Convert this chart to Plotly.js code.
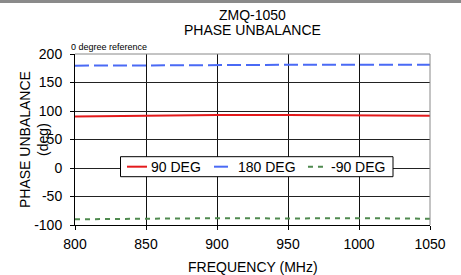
<!DOCTYPE html>
<html><head><meta charset="utf-8">
<script src="https://cdn.plot.ly/plotly-3.0.1.min.js"></script>
<style>html,body{margin:0;padding:0;background:#fff}#topbar{position:absolute;left:0;top:0;width:461px;height:3px;background:#8a8a8a;z-index:10}</style>
</head><body>
<div id="topbar"></div>
<div id="chart" style="width:461px;height:275px"></div>
<script>
const freq90 = [800, 850, 900, 950, 1000, 1050];
const deg90 = [90.5, 92, 93, 93, 92.5, 91.5];
const freq180 = [800, 835, 840, 900, 950, 1000, 1050];
const deg180 = [179.5, 179.8, 181, 181, 181, 181, 181];
const freqM90 = [800, 850, 900, 950, 1000, 1050];
const degM90 = [-90, -88.5, -88, -88.5, -88, -89];
const xTicks = [800, 850, 900, 950, 1000, 1050];
const yTicks = [-100, -50, 0, 50, 100, 150, 200];
const seriesNames = ['90 DEG', '180 DEG', '-90 DEG'];
const seriesColors = ['#e41a1c', '#4a6af5', '#4f8a4f'];
const seriesDash = ['solid', '14px,5px', '5px,5px'];

const FF = 'Liberation Sans, Arial, sans-serif';
const traces = [
  {x: freq90, y: deg90, name: seriesNames[0], mode: 'lines', line: {color: seriesColors[0], width: 2, dash: seriesDash[0]}},
  {x: freq180, y: deg180, name: seriesNames[1], mode: 'lines', line: {color: seriesColors[1], width: 2, dash: seriesDash[1]}},
  {x: freqM90, y: degM90, name: seriesNames[2], mode: 'lines', line: {color: seriesColors[2], width: 2, dash: seriesDash[2]}}
];

// legend drawn as a box with samples (paper coordinates)
const legY = 0.341;
const legSamples = [[0.1465, 0.2028, 0.2085], [0.3915, 0.4310, 0.4525], [0.6563, 0.6986, 0.7155]];
const shapes = [
  {type: 'line', xref: 'paper', yref: 'paper', x0: 1, x1: 1, y0: 0, y1: 1, line: {color: '#888', width: 1}},
  {type: 'line', xref: 'paper', yref: 'paper', x0: 0, x1: 1, y0: 1, y1: 1, line: {color: '#888', width: 1}},
  {type: 'rect', xref: 'paper', yref: 'paper', x0: 0.1282, x1: 0.8958, y0: 0.2825, y1: 0.3994, fillcolor: '#fff', line: {color: '#000', width: 1}, layer: 'above'}
];
const annotations = [
  {text: 'ZMQ-1050', xref: 'paper', yref: 'paper', x: 0.5, y: 1.228, xanchor: 'center', yanchor: 'middle', showarrow: false, font: {size: 14}},
  {text: 'PHASE UNBALANCE', xref: 'paper', yref: 'paper', x: 0.5, y: 1.1415, xanchor: 'center', yanchor: 'middle', showarrow: false, font: {size: 14}},
  {text: '0 degree reference', xref: 'paper', yref: 'paper', x: -0.016, y: 1.041, xanchor: 'left', yanchor: 'middle', showarrow: false, font: {size: 9}},
  {text: 'PHASE UNBALANCE<br>(deg)', xref: 'paper', yref: 'paper', x: -0.1169, y: 0.5, xanchor: 'center', yanchor: 'middle', textangle: -90, showarrow: false, font: {size: 14}},
  {text: 'FREQUENCY (MHz)', xref: 'paper', yref: 'paper', x: 0.5, y: -0.245, xanchor: 'center', yanchor: 'middle', showarrow: false, font: {size: 14}}
];
legSamples.forEach((s, i) => {
  shapes.push({type: 'line', xref: 'paper', yref: 'paper', x0: s[0], x1: s[1], y0: legY, y1: legY, layer: 'above',
    line: {color: seriesColors[i], width: 2, dash: seriesDash[i]}});
  annotations.push({text: seriesNames[i], xref: 'paper', yref: 'paper', x: s[2], y: legY - 0.003, xanchor: 'left', yanchor: 'middle', showarrow: false, font: {size: 14}});
});

const layout = {
  width: 461, height: 275,
  margin: {l: 75, r: 31, t: 54, b: 50},
  paper_bgcolor: '#fff', plot_bgcolor: '#fff',
  font: {family: FF, color: '#000', size: 14},
  showlegend: false,
  xaxis: {range: [800, 1050], tickvals: xTicks, ticktext: xTicks.map(String), showgrid: true, gridcolor: '#111', gridwidth: 1,
    showline: true, linecolor: '#000', linewidth: 1, ticks: 'outside', ticklen: 4, tickcolor: '#000',
    zeroline: false, tickfont: {size: 14}, ticklabelstandoff: 2, fixedrange: true},
  yaxis: {range: [-100, 200], tickvals: yTicks, ticktext: yTicks.map(String), showgrid: true, gridcolor: '#222', gridwidth: 1,
    showline: true, linecolor: '#000', linewidth: 1, ticks: 'outside', ticklen: 4, tickcolor: '#000',
    zeroline: false, tickfont: {size: 14}, ticklabelstandoff: 5, fixedrange: true},
  shapes: shapes,
  annotations: annotations
};
Plotly.newPlot('chart', traces, layout, {displayModeBar: false, staticPlot: true});
</script>
</body></html>
